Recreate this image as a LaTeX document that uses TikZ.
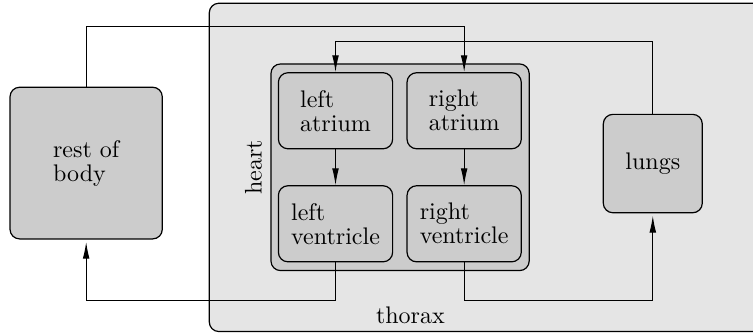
\documentclass[tikz,border=0pt]{standalone}
\usetikzlibrary{arrows.meta}

\tikzset{
  box/.style={draw, line width=0.5pt, rounded corners=4pt, inner sep=0pt, align=left,
    font=\fontsize{10pt}{10pt}\selectfont},
  organ/.style={box, fill=black!20},
  chamber/.style={organ, minimum width=47.6pt, minimum height=31.7pt},
}

\begin{document}
\begin{tikzpicture}[x=1pt, y=1pt, >={Latex[length=7pt, width=2.8pt]}]
				\useasboundingbox (0,0) rectangle (313.75,138.75);
				\clip (0,0) rectangle (313.75,138.75);
				
				% 胸腔
				\node[box, fill=black!10, minimum width=242.8pt, minimum height=136.8pt] (thorax) at (208.6,69.0) {};
				\node[anchor=base, font=\fontsize{10pt}{10pt}\selectfont] (thoraxlabel) at (171,4.0) {thorax};
				
				% 心脏 (四个腔室)
				\node[organ, minimum width=107.6pt, minimum height=86.1pt] (heart) at (166.7,69.05) {};
				\node[rotate=90, anchor=south, font=\fontsize{10pt}{10pt}\selectfont] (heartlabel) at (heart.west) {heart};
				\node[chamber] (la) at (139.8,92.6) {left\\atrium};
				\node[chamber] (ra) at (193.4,92.6) {right\\atrium};
				\node[chamber] (lv) at (139.8,45.5) {left\\ventricle};
				\node[chamber] (rv) at (193.4,45.5) {right\\ventricle};
				
				% 身体其余部分与肺
				\node[organ, minimum width=63.45pt, minimum height=63.2pt] (body) at (35.9,70.8) {rest of\\body};
				\node[organ, minimum width=41.25pt, minimum height=41pt] (lungs) at (272.0,70.6) {lungs};
				
				% 血液循环
				\draw[->] (body.north) -- ++(0,25) -| (ra.north);
				\draw[->] (lungs.north) -- ++(0,30.15) -| (la.north);
				\draw[->] (la.south) -- (lv.north);
				\draw[->] (ra.south) -- (rv.north);
				\draw[->, shorten >=1pt] (lv.south) -- ++(0,-16) -| (body.south);
				\draw[->, shorten >=1pt] (rv.south) -- ++(0,-16) -| (lungs.south);
			\end{tikzpicture}
\end{document}
